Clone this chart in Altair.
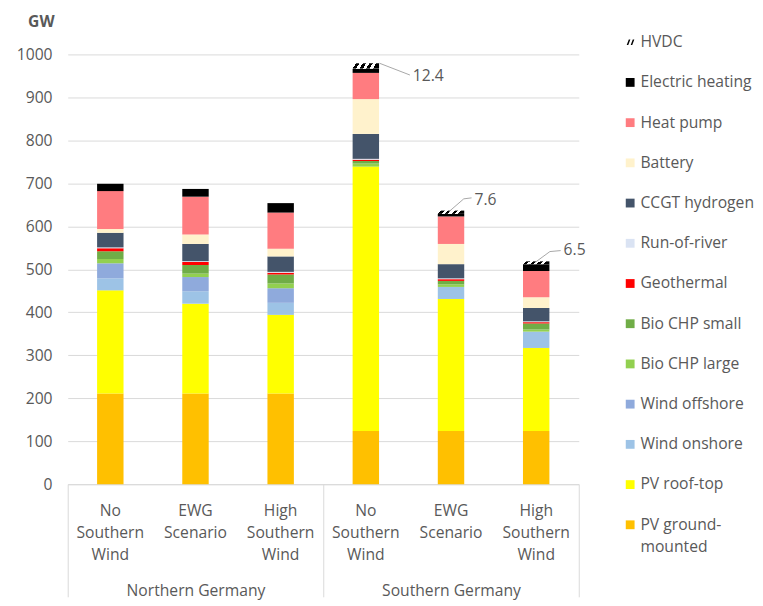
import altair as alt
import pandas as pd

FONT = "Open Sans"
GRAY = "#595959"
GRID = "#D9D9D9"
FS = 16

# ---- data -------------------------------------------------------------
regions = ["Northern Germany", "Northern Germany", "Northern Germany",
           "Southern Germany", "Southern Germany", "Southern Germany"]
scenarios = ["No|Southern|Wind", "EWG|Scenario", "High|Southern|Wind",
             "No|Southern|Wind", "EWG|Scenario", "High|Southern|Wind"]
group_names = ["Northern Germany", "Southern Germany"]

# stack order: bottom -> top
techs = ["PV ground-mounted", "PV roof-top", "Wind onshore", "Wind offshore",
         "Bio CHP large", "Bio CHP small", "Geothermal", "Run-of-river",
         "CCGT hydrogen", "Battery", "Heat pump", "Electric heating", "HVDC"]
legend_line1 = ["PV ground-", "PV roof-top", "Wind onshore", "Wind offshore",
                "Bio CHP large", "Bio CHP small", "Geothermal", "Run-of-river",
                "CCGT hydrogen", "Battery", "Heat pump", "Electric heating", "HVDC"]
legend_line2 = ["mounted", "", "", "", "", "", "", "", "", "", "", "", ""]
colors = ["#FFC000", "#FFFF00", "#9DC3E6", "#8FAADC", "#92D050", "#70AD47",
          "#FF0000", "#DAE3F3", "#44546A", "#FFF2CC", "#FF7C80", "#000000", "#FFFFFF"]

pv_ground = [211, 211, 211, 124, 124, 124]
pv_roof = [240, 209, 183, 615, 307, 193]
wind_onshore = [28, 29, 28, 0, 28, 38]
wind_offshore = [35, 33, 34, 0, 0, 0]
bio_chp_large = [10, 8, 11, 7, 6, 5]
bio_chp_small = [18, 20, 21, 6, 8, 14]
geothermal = [7, 7, 4, 3, 4, 3]
run_of_river = [2, 2, 2, 2, 2, 2]
ccgt_hydrogen = [34, 40, 36, 58, 33, 31]
battery = [9, 22, 18, 81, 47, 25]
heat_pump = [88, 88, 84, 61, 64, 61]
electric_heating = [17, 18, 22, 10, 6, 16]
hvdc = [0, 0, 0, 12.4, 7.6, 6.5]

series = [pv_ground, pv_roof, wind_onshore, wind_offshore, bio_chp_large,
          bio_chp_small, geothermal, run_of_river, ccgt_hydrogen, battery,
          heat_pump, electric_heating, hvdc]

cat_keys = [r + "|" + s for r, s in zip(regions, scenarios)]

rows = []
for ti, (t, vals) in enumerate(zip(techs, series)):
    for ci, k in enumerate(cat_keys):
        rows.append({"cat": k, "region": regions[ci], "tech": t,
                     "order": ti, "value": vals[ci]})
df = pd.DataFrame(rows)

# ---- main chart --------------------------------------------------------
x_scale = alt.Scale(domain=cat_keys, paddingInner=0, paddingOuter=0)
y_scale = alt.Scale(domain=[0, 1000], nice=False)
color_scale = alt.Scale(domain=techs, range=colors)

base = alt.Chart(df).transform_stack(
    stack="value", groupby=["cat"],
    sort=[alt.SortField("order", order="ascending")], as_=["y0", "y1"])

x_main = alt.X("cat:N", scale=x_scale, title=None, axis=alt.Axis(
    labelExpr="slice(split(datum.label, '|'), 1)", labelAngle=0, ticks=False,
    domain=True, domainColor=GRID, domainWidth=1, labelPadding=19,
    labelLineHeight=22.5, labelFontSize=FS, labelColor=GRAY, labelFont=FONT,
    labelBaseline="top", grid=False))
x_plain = alt.X("cat:N", scale=x_scale, title=None, axis=None)

y_main = alt.Y("y0:Q", scale=y_scale, axis=alt.Axis(
    values=list(range(0, 1001, 100)), format="d", title="GW", titleAngle=0,
    titleX=-41, titleY=-34, titleAlign="left", titleBaseline="middle",
    titleFontWeight="bold", titleFontSize=FS, titleColor=GRAY, titleFont=FONT,
    labelFontSize=FS, labelColor=GRAY, labelFont=FONT, labelPadding=16,
    ticks=False, domain=False, gridColor=GRID, gridWidth=1))

bars = base.mark_bar(size=27).encode(
    x=x_main, y=y_main, y2="y1:Q",
    color=alt.Color("tech:N", scale=color_scale, legend=None))

stops = []
n_hatch = 4
for k in range(n_hatch):
    a = k / n_hatch
    b = a + 0.5 / n_hatch
    stops += [alt.GradientStop(offset=a, color="white"),
              alt.GradientStop(offset=b, color="white"),
              alt.GradientStop(offset=b, color="black"),
              alt.GradientStop(offset=(k + 1) / n_hatch, color="black")]
hatch_fill = alt.LinearGradient(gradient="linear", stops=stops,
                                x1=0, y1=0, x2=1, y2=0.12)

hatch = base.transform_filter("datum.tech == 'HVDC' && datum.value > 0").mark_bar(
    size=27, fill=hatch_fill).encode(x=x_plain, y="y0:Q", y2="y1:Q")

hv = base.transform_filter("datum.tech == 'HVDC' && datum.value > 0").transform_calculate(
    label="format(datum.value, '.1f')")

LEADER = "#A6A6A6"


def leader(key, x1, y1, x2, y2):
    return hv.transform_filter(alt.datum.cat == key).mark_rule(
        color=LEADER, strokeWidth=1, xOffset=x1, yOffset=y1,
        x2Offset=x2, y2Offset=y2).encode(
        x=x_plain, x2="cat:N", y="y1:Q", y2="y1:Q")


def label(key, dx, dy):
    return hv.transform_filter(alt.datum.cat == key).mark_text(
        align="left", baseline="middle", dx=dx, dy=dy, fontSize=FS,
        font=FONT, color=GRAY).encode(
        x=x_plain, y="y1:Q", text="label:N")


annotations = [
    leader(cat_keys[3], 14, 0, 45, 12), label(cat_keys[3], 48, 13),
    leader(cat_keys[4], -2, 1, 13, -12), leader(cat_keys[4], 13, -12, 21, -13),
    label(cat_keys[4], 24, -11),
    leader(cat_keys[5], -1, 1, 14, -10), leader(cat_keys[5], 14, -10, 25, -11),
    label(cat_keys[5], 28, -11),
]

grp_df = pd.DataFrame({"region": group_names})
group_layer = alt.Chart(grp_df).mark_text(text=" ", opacity=0).encode(
    x=alt.X("region:N", title=None,
            scale=alt.Scale(domain=group_names, paddingInner=0, paddingOuter=0),
            axis=alt.Axis(orient="bottom", tickBand="extent", tickSize=115,
                          tickColor=GRID, tickWidth=1, domain=False, labelAngle=0,
                          labelPadding=-14, labelFontSize=FS, labelColor=GRAY,
                          labelFont=FONT, labelBaseline="top", grid=False)))

main = alt.layer(bars, hatch, *annotations, group_layer).resolve_scale(
    x="independent").properties(width=522, height=439)

# ---- legend ------------------------------------------------------------
leg_df = pd.DataFrame({"tech": techs, "line1": legend_line1, "line2": legend_line2})
leg_y = alt.Y("tech:N", axis=None, scale=alt.Scale(
    type="band", domain=techs[::-1], paddingInner=0, paddingOuter=0))
LEG_SHIFT = -33

HATCH_PATH = ("M-1,0.8 L-0.55,0.8 L0.05,-0.8 L-0.4,-0.8 Z "
              "M0.15,0.8 L0.6,0.8 L1.2,-0.8 L0.75,-0.8 Z")

leg_sq = alt.Chart(leg_df).transform_filter("datum.tech != 'HVDC'").mark_square(
    size=81, opacity=1, yOffset=LEG_SHIFT).encode(
    x=alt.value(4.5), y=leg_y,
    color=alt.Color("tech:N", scale=color_scale, legend=None))
leg_hv = alt.Chart(leg_df).transform_filter("datum.tech == 'HVDC'").mark_point(
    shape=HATCH_PATH, filled=True, size=50, color="black", opacity=1,
    yOffset=LEG_SHIFT).encode(x=alt.value(4.5), y=leg_y)
leg_t1 = alt.Chart(leg_df).mark_text(
    align="left", baseline="middle", fontSize=FS, font=FONT, color=GRAY,
    dy=LEG_SHIFT).encode(x=alt.value(15), y=leg_y, text="line1:N")
leg_t2 = alt.Chart(leg_df).transform_filter("datum.line2 != ''").mark_text(
    align="left", baseline="middle", fontSize=FS, font=FONT, color=GRAY,
    dy=LEG_SHIFT + 23).encode(x=alt.value(15), y=leg_y, text="line2:N")

legend = alt.layer(leg_sq, leg_hv, leg_t1, leg_t2).properties(width=110, height=534)

chart = alt.hconcat(main, legend, spacing=39).properties(
    padding={"left": 7, "top": -2, "right": 0, "bottom": 0}
).configure_view(stroke="transparent")

chart.save("out.html", embed_options={"renderer": "svg", "actions": False})
